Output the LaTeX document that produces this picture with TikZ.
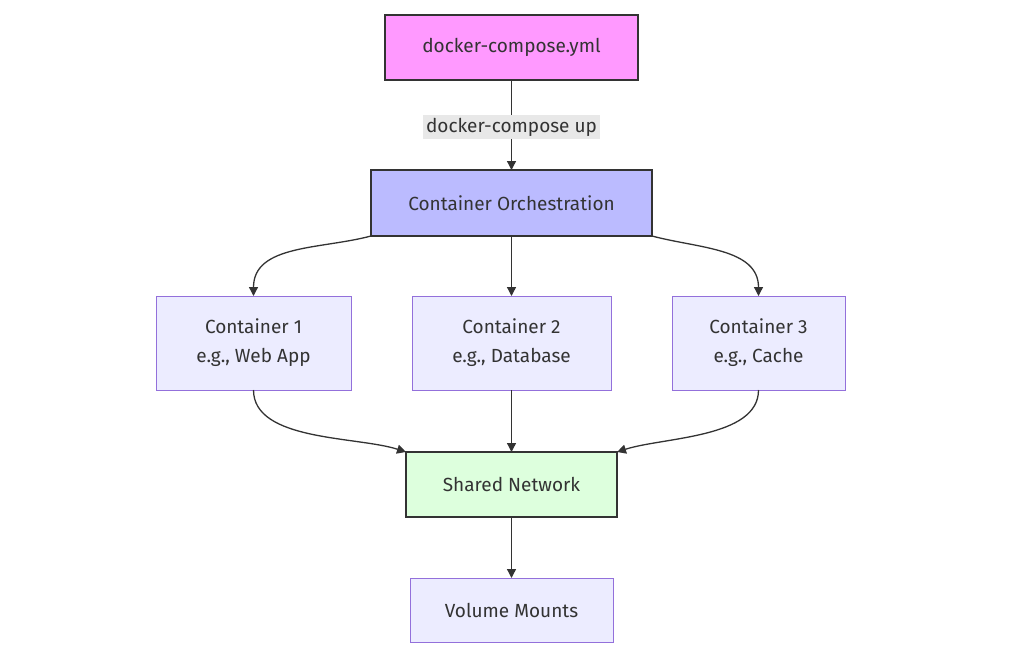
\documentclass[tikz,border=0pt]{standalone}
\usepackage{fontspec}
\setmainfont{Fira Sans}
\usepackage{xcolor}
\usetikzlibrary{arrows.meta,positioning}
\definecolor{ink}{HTML}{333333}
\definecolor{pinkfill}{HTML}{FF99FF}
\definecolor{bluefill}{HTML}{BBBBFF}
\definecolor{greenfill}{HTML}{DDFFDD}
\definecolor{boxfill}{HTML}{ECECFF}
\definecolor{boxline}{HTML}{9370DB}
\definecolor{labelfill}{HTML}{E8E8E8}

\begin{document}
\begin{tikzpicture}[
  x=1pt,y=1pt,>={Triangle[length=9pt,width=9pt]},
  node distance=60pt and 61pt,
  box/.style={draw=boxline,line width=1pt,fill=boxfill,text=ink,align=center,
    font=\fontsize{19}{29}\selectfont,inner sep=0pt,outer sep=0pt},
  strong/.style={box,draw=ink,line width=2.2pt},
  flow/.style={->,draw=ink,line width=1.3pt},
  edgelabel/.style={fill=labelfill,text=ink,font=\fontsize{19}{22}\selectfont,inner sep=3pt}
]
\useasboundingbox (0,0) rectangle (1024,-648);
\node[strong,fill=pinkfill,minimum width=253pt,minimum height=65pt] (compose) at (511.5,-47.5) {docker-compose.yml};
\node[strong,fill=bluefill,minimum width=281pt,minimum height=66pt,below=90pt of compose] (orch) {Container Orchestration};
\node[box,minimum width=199pt,minimum height=94pt,below=60pt of orch] (c2) {Container 2\\e.g., Database};
\node[box,minimum width=195pt,minimum height=94pt,left=61pt of c2] (c1) {Container 1\\e.g., Web App};
\node[box,minimum width=173pt,minimum height=94pt,right=61pt of c2] (c3) {Container 3\\e.g., Cache};
\node[strong,fill=greenfill,minimum width=211pt,minimum height=65pt,below=62pt of c2] (net) {Shared Network};
\node[box,minimum width=203pt,minimum height=64pt,below=61pt of net] (vol) {Volume Mounts};
\draw[flow] (compose)--(orch) node[midway,yshift=-2pt,edgelabel] {docker-compose up};
\draw[flow] (orch.south west) to[out=-165,in=90] (c1.north);
\draw[flow] (orch)--(c2);
\draw[flow] (orch.south east) to[out=-15,in=90] (c3.north);
\draw[flow] (c1.south) to[out=-90,in=162,looseness=0.8] (net.north west);
\draw[flow] (c2)--(net);
\draw[flow] (c3.south) to[out=-90,in=18,looseness=0.8] (net.north east);
\draw[flow] (net)--(vol);
\end{tikzpicture}
\end{document}
